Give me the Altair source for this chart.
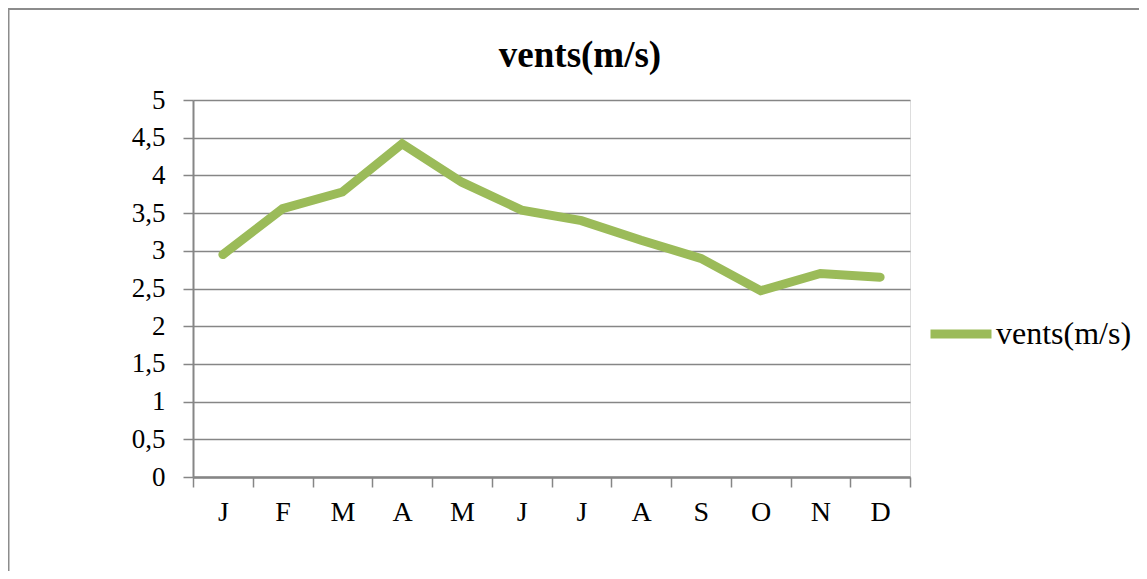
import altair as alt
import pandas as pd

months = ["J", "F", "M", "A", "M", "J", "J", "A", "S", "O", "N", "D"]
values = [2.95, 3.56, 3.78, 4.42, 3.91, 3.54, 3.40, 3.14, 2.90, 2.47, 2.70, 2.65]
series_name = "vents(m/s)"
y_ticks = [0, 0.5, 1, 1.5, 2, 2.5, 3, 3.5, 4, 4.5, 5]
title_text = "vents(m/s)"

GREEN = "#9BBB59"
GRAY = "#868686"
FONT = "Liberation Serif"

PLOT_W, PLOT_H = 717, 377
PAD_L, PAD_T = 185, 92
TOTAL_W, TOTAL_H = 1131, 563

df = pd.DataFrame({
    "pos": [i + 0.5 for i in range(len(months))],
    "value": values,
    "series": [series_name] * len(months),
})

month_arr = "[" + ",".join(f"'{m}'" for m in months) + "]"
x_label_expr = f"datum.value < {len(months)} ? {month_arr}[datum.value] : ''"

line = alt.Chart(df).mark_line(strokeWidth=9, strokeCap="round", strokeJoin="miter").encode(
    x=alt.X("pos:Q",
            scale=alt.Scale(domain=[0, len(months)], nice=False, zero=False),
            axis=alt.Axis(values=list(range(len(months) + 1)), labelExpr=x_label_expr,
                          labelOffset=PLOT_W / (2 * len(months)), labelFlush=False,
                          labelOverlap=False, grid=False, title=None,
                          tickSize=10, tickColor=GRAY, tickWidth=1.5,
                          domainColor=GRAY, domainWidth=2.5,
                          labelFont=FONT, labelFontSize=28, labelColor="black",
                          labelPadding=11)),
    y=alt.Y("value:Q",
            scale=alt.Scale(domain=[0, 5], nice=False),
            axis=alt.Axis(values=y_ticks,
                          labelExpr="replace(toString(datum.value), '.', ',')",
                          grid=True, gridColor=GRAY, gridWidth=1.5, title=None,
                          tickSize=10, tickColor=GRAY, tickWidth=1.5,
                          domainColor=GRAY, domainWidth=2,
                          labelFont=FONT, labelFontSize=27, labelColor="black",
                          labelPadding=18)),
    color=alt.Color("series:N",
                    scale=alt.Scale(range=[GREEN]),
                    legend=alt.Legend(orient="none", legendX=733, legendY=199,
                                      title=None, symbolType="stroke", symbolSize=3721,
                                      symbolStrokeWidth=9, symbolStrokeColor=GREEN,
                                      labelFont=FONT, labelFontSize=32, labelColor="black",
                                      labelOffset=0, padding=0)),
)

one = pd.DataFrame({"k": [0]})
frame_top = alt.Chart(one).mark_rule(color="#8c8c8c", strokeWidth=2).encode(
    x=alt.value(-PAD_L), x2=alt.value(TOTAL_W - PAD_L), y=alt.value(-91))
frame_left = alt.Chart(one).mark_rule(color="#8c8c8c", strokeWidth=1.5).encode(
    x=alt.value(-PAD_L + 0.75), y=alt.value(-92), y2=alt.value(TOTAL_H - PAD_T + 10))

title = alt.Chart(one).mark_text(font=FONT, fontSize=37, fontWeight="bold", color="black",
                                 align="center", baseline="alphabetic").encode(
    x=alt.value(387), y=alt.value(-33), text=alt.value(title_text))

chart = alt.layer(line, frame_top, frame_left, title).properties(
    width=PLOT_W, height=PLOT_H,
    autosize=alt.AutoSizeParams(type="none"),
    padding={"left": PAD_L, "top": PAD_T,
             "right": TOTAL_W - PAD_L - PLOT_W, "bottom": TOTAL_H - PAD_T - PLOT_H},
).configure_view(strokeWidth=0).configure(background="white")

chart.save("out.html", embed_options={"renderer": "svg", "actions": False})
